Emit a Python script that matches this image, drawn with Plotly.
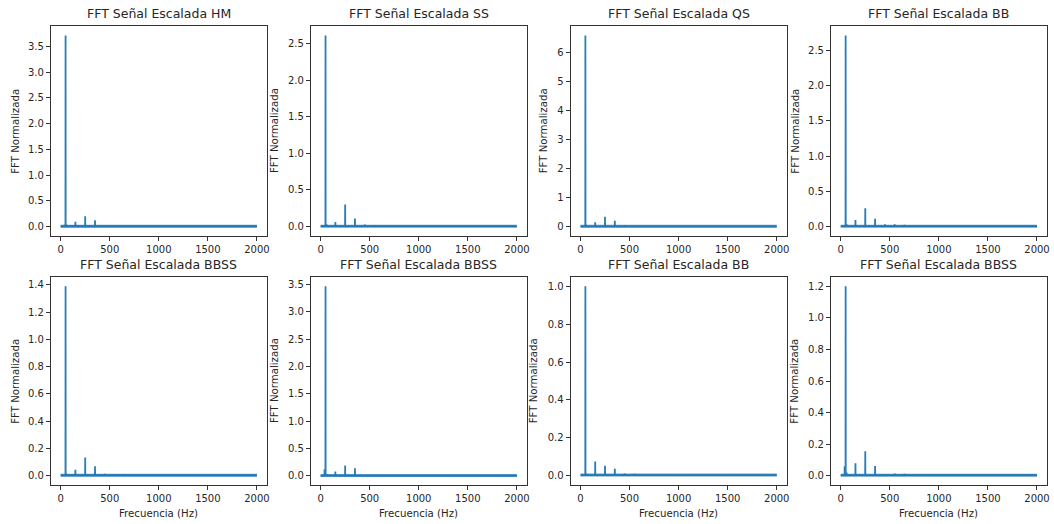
import plotly.graph_objects as go

# ---------------- data ----------------
titles = ["FFT Señal Escalada HM", "FFT Señal Escalada SS", "FFT Señal Escalada QS", "FFT Señal Escalada BB",
          "FFT Señal Escalada BBSS", "FFT Señal Escalada BBSS", "FFT Señal Escalada BB", "FFT Señal Escalada BBSS"]

# peak frequencies (Hz) of the spectrum lines
peak_freqs = [40, 50, 60, 150, 250, 350, 450, 550, 650, 750, 850, 950, 1050, 1150, 1250]

# amplitudes at each peak frequency, one list per panel
amp_hm   = [0.03, 3.71, 0.03, 0.09, 0.20, 0.12, 0.02, 0.015, 0.015, 0.012, 0.01, 0.012, 0.01, 0.01, 0.012]
amp_ss   = [0.02, 2.61, 0.03, 0.06, 0.30, 0.11, 0.025, 0.02, 0.02, 0.012, 0.01, 0.015, 0.008, 0.01, 0.01]
amp_qs   = [0.05, 6.58, 0.06, 0.14, 0.33, 0.20, 0.05, 0.03, 0.03, 0.02, 0.02, 0.02, 0.015, 0.02, 0.02]
amp_bb1  = [0.02, 2.71, 0.03, 0.09, 0.26, 0.11, 0.03, 0.03, 0.025, 0.015, 0.015, 0.015, 0.01, 0.01, 0.01]
amp_bbs1 = [0.01, 1.39, 0.015, 0.045, 0.135, 0.07, 0.015, 0.013, 0.012, 0.008, 0.006, 0.008, 0.006, 0.004, 0.004]
amp_bbs2 = [0.12, 3.47, 0.03, 0.08, 0.19, 0.14, 0.02, 0.02, 0.02, 0.015, 0.015, 0.015, 0.012, 0.015, 0.015]
amp_bb2  = [0.008, 1.00, 0.01, 0.075, 0.053, 0.037, 0.012, 0.01, 0.006, 0.004, 0.004, 0.004, 0.003, 0.003, 0.003]
amp_bbs3 = [0.06, 1.20, 0.02, 0.08, 0.155, 0.062, 0.01, 0.015, 0.012, 0.006, 0.006, 0.01, 0.004, 0.006, 0.004]
amplitudes = [amp_hm, amp_ss, amp_qs, amp_bb1, amp_bbs1, amp_bbs2, amp_bb2, amp_bbs3]

baseline_level = 0.004
freq_min, freq_max = 0, 2000

x_tick_vals = [0, 500, 1000, 1500, 2000]
y_dticks = [0.5, 0.5, 1, 0.5, 0.2, 0.5, 0.2, 0.2]
y_formats = [".1f", ".1f", "d", ".1f", ".1f", ".1f", ".1f", ".1f"]

# ---------------- layout geometry (px) ----------------
W, H = 1054, 524
col_left = [51, 311.7, 572.3, 833.3]
box_w = 216.5
row_top = [26, 276.7]
row_bot = [236, 485.3]
ylabel_offset = [36, 36.7, 27.3, 36.3, 36, 36.7, 37.3, 37.3]

BLUE = "#1f77b4"
TXT = "#262626"
FONT = "DejaVu Sans"

fig = go.Figure()

for i in range(8):
    r, c = divmod(i, 4)
    ax = "" if i == 0 else str(i + 1)
    # noisy-looking baseline band
    fig.add_trace(go.Scatter(x=[freq_min, freq_max], y=[baseline_level, baseline_level], mode="lines",
                             line=dict(color="rgba(31,119,180,0.72)", width=3),
                             xaxis="x" + ax, yaxis="y" + ax, showlegend=False, hoverinfo="skip"))
    xs, ys = [freq_min], [baseline_level]
    for f, a in zip(peak_freqs, amplitudes[i]):
        xs += [f - 1, f, f + 1]
        ys += [baseline_level, a, baseline_level]
    xs.append(freq_max)
    ys.append(baseline_level)
    fig.add_trace(go.Scatter(x=xs, y=ys, mode="lines", line=dict(color=BLUE, width=1.8),
                             opacity=0.95,
                             xaxis="x" + ax, yaxis="y" + ax, showlegend=False, hoverinfo="skip"))

    ymax = max(amplitudes[i])
    ymin = 0.0
    pad = 0.05 * (ymax - ymin)
    xpad = 0.05 * (freq_max - freq_min)

    x0 = col_left[c] / W
    x1 = (col_left[c] + box_w) / W
    y0 = 1 - row_bot[r] / H
    y1 = 1 - row_top[r] / H

    axis_common = dict(showline=True, linecolor="#333333", linewidth=1, mirror=True,
                       ticks="outside", ticklen=4, tickcolor="#333333", tickwidth=1,
                       showgrid=False, zeroline=False,
                       tickfont=dict(family=FONT, size=10, color=TXT))
    fig.layout["xaxis" + ax] = dict(domain=[x0, x1], anchor="y" + ax,
                                    range=[freq_min - xpad, freq_max + xpad],
                                    tickvals=x_tick_vals, **axis_common)
    fig.layout["yaxis" + ax] = dict(domain=[y0, y1], anchor="x" + ax,
                                    range=[ymin - pad, ymax + pad],
                                    tick0=0, dtick=y_dticks[i], tickformat=y_formats[i],
                                    **axis_common)

    # title
    fig.add_annotation(text=titles[i], xref="paper", yref="paper",
                       x=(x0 + x1) / 2, y=y1, yanchor="bottom", xanchor="center",
                       yshift=3, showarrow=False,
                       font=dict(family=FONT, size=12.5, color=TXT))
    # y label
    fig.add_annotation(text="FFT Normalizada", xref="paper", yref="paper",
                       x=x0, y=(y0 + y1) / 2, xshift=-ylabel_offset[i], textangle=-90,
                       xanchor="center", yanchor="middle", showarrow=False,
                       font=dict(family=FONT, size=10.2, color=TXT))
    if r == 1:
        fig.add_annotation(text="Frecuencia (Hz)", xref="paper", yref="paper",
                           x=(x0 + x1) / 2, y=y0, yshift=-28, yanchor="middle",
                           xanchor="center", showarrow=False,
                           font=dict(family=FONT, size=10.2, color=TXT))

fig.update_layout(width=W, height=H, margin=dict(l=0, r=0, t=0, b=0),
                  paper_bgcolor="white", plot_bgcolor="white")

fig.write_html("out.html")
